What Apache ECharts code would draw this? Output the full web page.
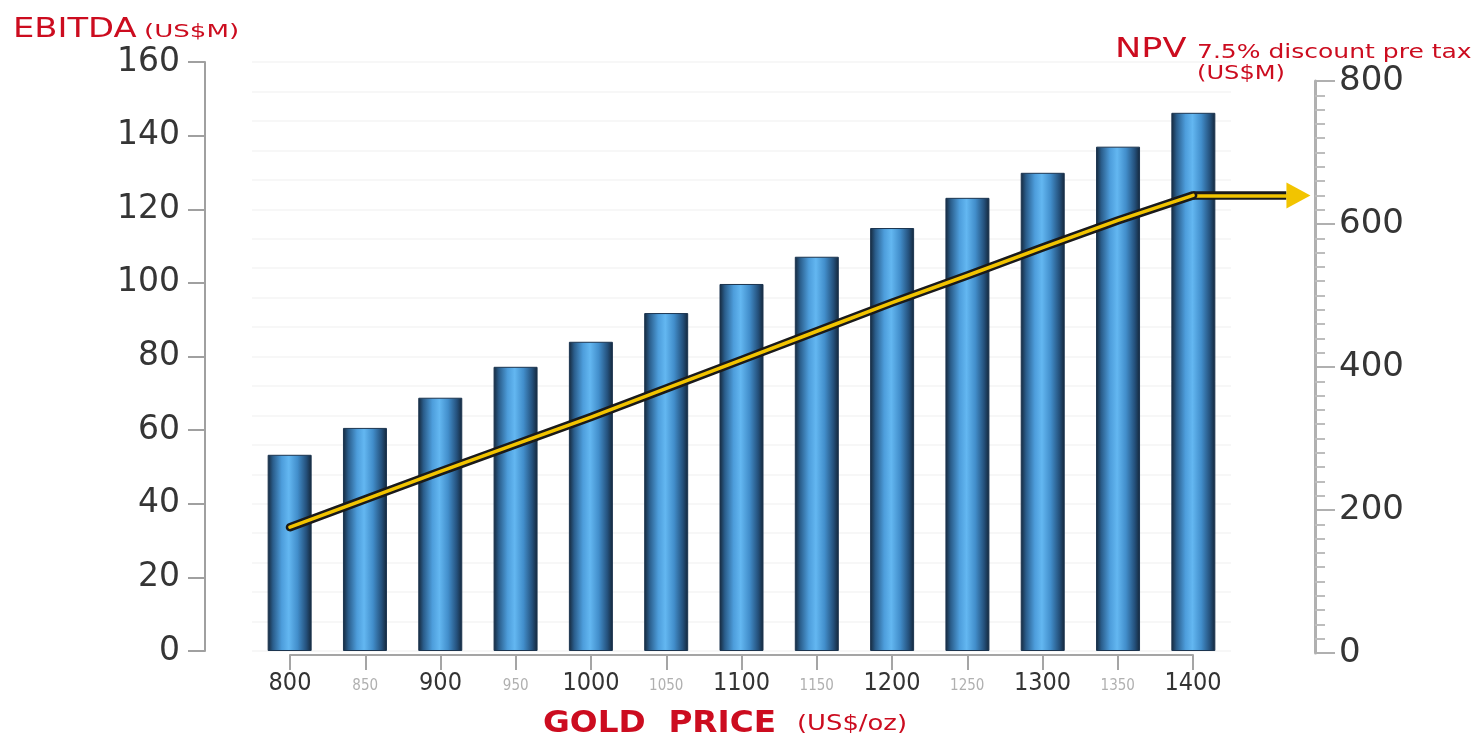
<!DOCTYPE html>
<html>
<head>
<meta charset="utf-8">
<script src="https://cdn.jsdelivr.net/npm/echarts@6/dist/echarts.min.js"></script>
<style>html,body{margin:0;padding:0;background:#fff}#c{width:1478px;height:741px}</style>
</head>
<body>
<div id="c"></div>
<script>
// Gold price categories (US$/oz)
var goldPrices = [800, 850, 900, 950, 1000, 1050, 1100, 1150, 1200, 1250, 1300, 1350, 1400];
// EBITDA (US$M) – bars, left axis
var ebitda = [53.3, 60.6, 68.8, 77.2, 84.0, 91.8, 99.7, 107.1, 114.9, 123.1, 129.9, 137.0, 146.2];
// NPV 7.5% discount pre tax (US$M) – line, right axis
var npv = [176, 215, 254, 292, 330, 370, 410, 450, 490, 528, 567, 605, 640];
// Axis ticks
var leftTicks = {min: 0, max: 160, interval: 20};
var rightTicks = {min: 0, max: 800, interval: 200};

var RED = '#cc0c1f';
var chart = echarts.init(document.getElementById('c'));
var linePts = goldPrices.map(function (g, i) { return [g, npv[i]]; });
var lastG = goldPrices[goldPrices.length - 1], lastN = npv[npv.length - 1];

var barGrad = new echarts.graphic.LinearGradient(0, 0, 1, 0, [
  {offset: 0, color: '#15273a'},
  {offset: 0.12, color: '#2a5d8b'},
  {offset: 0.32, color: '#4d9ddb'},
  {offset: 0.48, color: '#63b7f1'},
  {offset: 0.68, color: '#428ecb'},
  {offset: 0.88, color: '#24507b'},
  {offset: 1, color: '#142639'}
]);

chart.setOption({
  animation: false,
  grid: [
    {left: 252, right: 247, top: 62, bottom: 90},
    {left: 290, right: 163, top: 81, bottom: 88},
    {left: 290, right: 285, top: 60, bottom: 86}
  ],
  xAxis: [
    {type: 'category', gridIndex: 0, data: goldPrices, show: false},
    {type: 'value', gridIndex: 1, min: 800, max: 1481, show: false},
    {type: 'category', gridIndex: 2, data: goldPrices, boundaryGap: false,
      axisLine: {lineStyle: {color: '#a5a5a5', width: 2}},
      axisTick: {alignWithLabel: true, length: 15, lineStyle: {color: '#a5a5a5', width: 2}},
      axisLabel: {
        margin: 13, interval: 0,
        formatter: function (v, i) { return i % 2 === 0 ? '{a|' + v + '}' : '{b|' + v + '}'; },
        rich: {
          a: {fontSize: 25, fontFamily: 'DejaVu Sans Condensed, DejaVu Sans', color: '#333333', lineHeight: 30},
          b: {fontSize: 15, fontFamily: 'DejaVu Sans Condensed, DejaVu Sans', color: '#b0b0b0', lineHeight: 30, padding: [6, 0, 0, 0]}
        }
      }
    }
  ],
  yAxis: [
    {type: 'value', gridIndex: 0, position: 'left', offset: 47,
      min: leftTicks.min, max: leftTicks.max, interval: leftTicks.interval,
      axisLine: {show: true, lineStyle: {color: '#a0a0a0', width: 2}},
      axisTick: {show: true, length: 17, lineStyle: {color: '#a0a0a0', width: 2}},
      axisLabel: {fontSize: 33, fontFamily: 'DejaVu Sans', color: '#353535', margin: 25},
      splitLine: {show: false}
    },
    {type: 'value', gridIndex: 1, position: 'right', offset: 0,
      min: rightTicks.min, max: rightTicks.max, interval: rightTicks.interval,
      axisLine: {show: true, lineStyle: {color: '#b0b0b0', width: 3}},
      axisTick: {show: true, length: 20, lineStyle: {color: '#b0b0b0', width: 2}},
      minorTick: {show: true, splitNumber: 10, length: 10, lineStyle: {color: '#bdbdbd', width: 2}},
      axisLabel: {fontSize: 34, fontFamily: 'DejaVu Sans', color: '#353535', margin: 24},
      splitLine: {show: false}
    },
    {type: 'value', gridIndex: 0, min: 0, max: 160, interval: 8, show: true,
      axisLine: {show: false}, axisTick: {show: false}, axisLabel: {show: false},
      splitLine: {show: true, lineStyle: {color: '#f4f4f4', width: 1.5}}
    },
    {type: 'value', gridIndex: 2, show: false}
  ],
  series: [
    {type: 'bar', xAxisIndex: 0, yAxisIndex: 0, data: ebitda, barWidth: 44,
      itemStyle: {color: barGrad, borderColor: '#1c3550', borderWidth: 1}},
    {type: 'line', xAxisIndex: 1, yAxisIndex: 1, data: linePts, symbol: 'none', z: 5,
      lineStyle: {color: '#1a1a1a', width: 8.5, join: 'round', cap: 'round'},
      markLine: {silent: true, symbol: ['none', 'none'], label: {show: false},
        lineStyle: {color: '#1a1a1a', width: 8.5, type: 'solid'},
        data: [[{coord: [lastG, lastN]}, {coord: [1462, lastN]}]]}
    },
    {type: 'line', xAxisIndex: 1, yAxisIndex: 1, data: linePts, symbol: 'none', z: 6,
      lineStyle: {color: '#f2c400', width: 3.5, join: 'round', cap: 'round'},
      markLine: {silent: true, symbol: ['none', 'triangle'], symbolSize: [26, 24], label: {show: false},
        lineStyle: {color: '#f2c400', width: 3.5, type: 'solid'},
        data: [[{coord: [lastG, lastN]}, {coord: [1470, lastN]}]]}
    }
  ],
  graphic: [
    {type: 'text', x: 13, y: 30, scaleX: 1.25, style: {
      text: 'EBITDA', fontSize: 27, fontFamily: 'DejaVu Sans', fill: RED, verticalAlign: 'middle'}},
    {type: 'text', x: 144, y: 32, scaleX: 1.45, style: {
      text: '(US$M)', fontSize: 18, fontFamily: 'DejaVu Sans', fill: RED, verticalAlign: 'middle'}},
    {type: 'text', x: 1115, y: 50, scaleX: 1.3, style: {
      text: 'NPV', fontSize: 27, fontFamily: 'DejaVu Sans', fill: RED, verticalAlign: 'middle'}},
    {type: 'text', x: 1197, y: 63, scaleX: 1.25, style: {
      text: '7.5% discount pre tax', fontSize: 20, fontFamily: 'DejaVu Sans', fill: RED, verticalAlign: 'bottom'}},
    {type: 'text', x: 1197, y: 74, scaleX: 1.27, style: {
      text: '(US$M)', fontSize: 19, fontFamily: 'DejaVu Sans', fill: RED, verticalAlign: 'middle'}},
    {type: 'text', x: 543, y: 724, scaleX: 1.09, style: {
      text: 'GOLD  PRICE', fontSize: 30, fontWeight: 'bold', fontFamily: 'DejaVu Sans', fill: RED, verticalAlign: 'middle'}},
    {type: 'text', x: 797, y: 725, scaleX: 1.23, style: {
      text: '(US$/oz)', fontSize: 21, fontFamily: 'DejaVu Sans', fill: RED, verticalAlign: 'middle'}}
  ]
});
</script>
</body>
</html>
